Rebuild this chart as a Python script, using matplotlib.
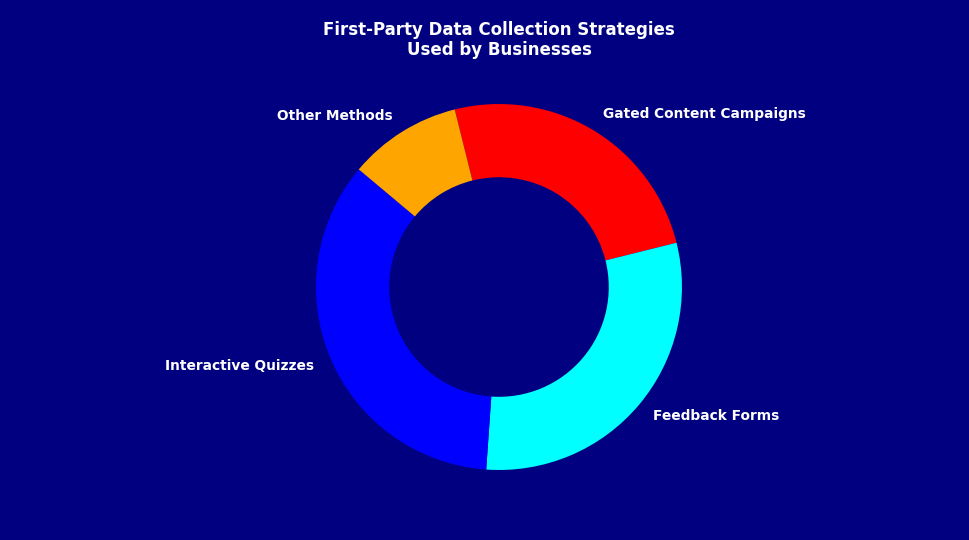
import matplotlib
matplotlib.use('Agg')
import matplotlib.pyplot as plt

# ==========================================
# Data
# ==========================================
LABELS = ['Gated Content Campaigns', 'Feedback Forms', 'Interactive Quizzes', 'Other Methods']
SHARES = [25, 30, 35, 10]
COLORS = ['#ff0000', '#00ffff', '#0000ff', '#ffa500']
BG = '#000080'


def main():
    fig = plt.figure(figsize=(9.7, 5.4), dpi=100, facecolor=BG)
    ax = fig.add_axes([0.2786, 0.0449, 0.4716, 0.8472])
    ax.set_facecolor(BG)

    wedges, texts = ax.pie(SHARES, labels=LABELS, colors=COLORS,
                           startangle=104, counterclock=False,
                           labeldistance=1.1,
                           wedgeprops={'width': 0.4, 'linewidth': 0},
                           textprops={'color': 'white', 'fontsize': 9.9,
                                      'fontweight': 'bold'})
    ax.set_xlim(-1.25, 1.25)
    ax.set_ylim(-1.25, 1.25)
    ax.set_aspect('equal')

    fig.text(0.5145, 0.926, 'First-Party Data Collection Strategies\nUsed by Businesses',
             ha='center', va='center', color='white', fontsize=12,
             fontweight='bold', linespacing=1.1)

    fig.savefig('out.png', dpi=100, facecolor=BG)
    plt.close(fig)


if __name__ == '__main__':
    main()
